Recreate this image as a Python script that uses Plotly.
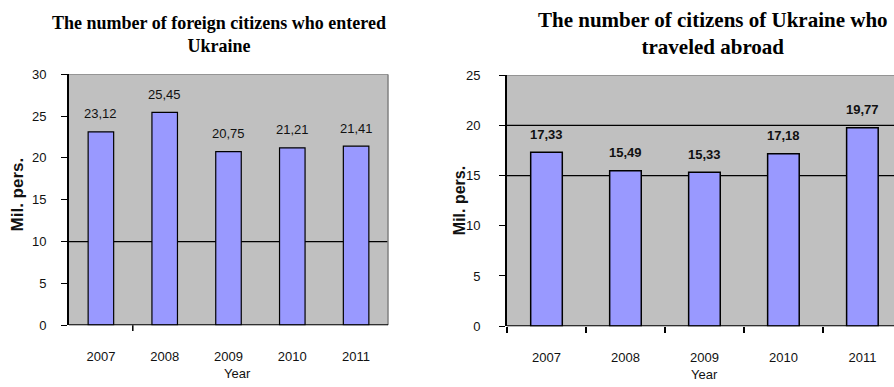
import plotly.graph_objects as go

years = ["2007", "2008", "2009", "2010", "2011"]
foreign_entered = [23.12, 25.45, 20.75, 21.21, 21.41]
ukrainians_abroad = [17.33, 15.49, 15.33, 17.18, 19.77]

left_title = "The number of foreign citizens who entered<br>Ukraine"
right_title = "The number of citizens of Ukraine who<br>traveled abroad"
y_title = "Mil. pers."
x_title = "Year"

W, H = 894, 387
BAR = "#9999FF"
BG = "#C0C0C0"
SANS = "Liberation Sans, Arial"
SERIF = "Liberation Serif, Times New Roman"
TICK_FONT = dict(family=SANS, size=13, color="#111")
LABEL_FONT = dict(family=SANS, size=13, color="#111")


def fmt(v):
    return f"{v:.2f}".replace(".", ",")


fig = go.Figure()
fig.add_trace(go.Bar(x=years, y=foreign_entered, xaxis="x", yaxis="y",
                     marker=dict(color=BAR, line=dict(color="#000", width=1.2)),
                     width=0.4, showlegend=False, hoverinfo="skip"))
fig.add_trace(go.Bar(x=years, y=ukrainians_abroad, xaxis="x2", yaxis="y2",
                     marker=dict(color=BAR, line=dict(color="#000", width=1.5)),
                     width=0.4, showlegend=False, hoverinfo="skip"))

# plot-area placement in paper coordinates
lx0, lx1 = 69 / W, 388 / W
ly0, ly1 = (H - 331) / H, (H - 70) / H
rx0, rx1 = 507 / W, 1.0
ry0, ry1 = (H - 332) / H, (H - 71) / H

common_y = dict(showgrid=False, zeroline=False, showline=True, linecolor="#000", linewidth=2,
                ticks="outside", ticklen=6, tickcolor="#000", tickfont=TICK_FONT)
fig.update_layout(
    width=W, height=H, margin=dict(l=0, r=0, t=0, b=0),
    paper_bgcolor="white", plot_bgcolor=BG, bargap=0.6,
    xaxis=dict(domain=[lx0, lx1], anchor="y", type="category", range=[-0.5, 4.5],
               showgrid=False, showline=False, ticks="", tickfont=TICK_FONT,
               ticklabelstandoff=22),
    yaxis=dict(domain=[ly0, ly1], anchor="x", range=[0, 30], dtick=5,
               ticklabelstandoff=12, **common_y),
    xaxis2=dict(domain=[rx0, rx1], anchor="y2", type="category", range=[-0.5, 4.4],
                showgrid=False, showline=False, ticks="outside", tickson="boundaries",
                ticklen=6, tickcolor="#000", tickwidth=1.5, tickfont=TICK_FONT,
                ticklabelstandoff=22),
    yaxis2=dict(domain=[ry0, ry1], anchor="x2", range=[0, 25], dtick=5,
                ticklabelstandoff=16, **common_y),
)

shapes = []
# grey frame (top and right) of the left plot, top of the right plot
shapes.append(dict(type="line", xref="x domain", yref="y", x0=0, x1=1, y0=30, y1=30,
                   line=dict(color="#808080", width=1.5)))
shapes.append(dict(type="line", xref="x domain", yref="y", x0=1, x1=1, y0=0, y1=30,
                   line=dict(color="#808080", width=1.5)))
shapes.append(dict(type="line", xref="x2 domain", yref="y2", x0=0, x1=1, y0=25, y1=25,
                   line=dict(color="#808080", width=1.5)))
# horizontal grid lines drawn beneath the bars
for yv in [10]:
    shapes.append(dict(type="line", xref="x domain", yref="y", x0=0, x1=1, y0=yv, y1=yv,
                       line=dict(color="#000", width=1.3), layer="below"))
for yv in [15, 20]:
    shapes.append(dict(type="line", xref="x2 domain", yref="y2", x0=0, x1=1, y0=yv, y1=yv,
                       line=dict(color="#000", width=1.3), layer="below"))
# base lines at zero
shapes.append(dict(type="line", xref="x domain", yref="y", x0=0, x1=1, y0=0, y1=0,
                   line=dict(color="#000", width=2)))
shapes.append(dict(type="line", xref="x2 domain", yref="y2", x0=0, x1=1, y0=0, y1=0,
                   line=dict(color="#000", width=2)))
# single category tick under the left chart
shapes.append(dict(type="line", xref="x", yref="paper", x0=0.5, x1=0.5,
                   y0=ly0 - 6 / H, y1=ly0, line=dict(color="#000", width=1.5)))
fig.update_layout(shapes=shapes)

ann = []
for i, v in enumerate(foreign_entered):
    ann.append(dict(x=i, y=v, xref="x", yref="y", text=fmt(v), showarrow=False,
                    yshift=18, font=LABEL_FONT))
for i, v in enumerate(ukrainians_abroad):
    ann.append(dict(x=i, y=v, xref="x2", yref="y2", text=f"<b>{fmt(v)}</b>", showarrow=False,
                    yshift=18, font=LABEL_FONT))
ann += [
    dict(x=219 / W, y=(H - 29) / H, xref="paper", yref="paper", text=f"<b>{left_title}</b>",
         showarrow=False, font=dict(family=SERIF, size=18, color="#000"),
         xanchor="center", yanchor="middle"),
    dict(x=713 / W, y=(H - 28) / H, xref="paper", yref="paper", text=f"<b>{right_title}</b>",
         showarrow=False, font=dict(family=SERIF, size=21, color="#000"),
         xanchor="center", yanchor="middle"),
    dict(x=17 / W, y=(H - 195) / H, xref="paper", yref="paper", text=f"<b>{y_title}</b>",
         textangle=-90, showarrow=False, font=dict(family=SANS, size=17, color="#111"),
         xanchor="center", yanchor="middle"),
    dict(x=459 / W, y=(H - 202) / H, xref="paper", yref="paper", text=f"<b>{y_title}</b>",
         textangle=-90, showarrow=False, font=dict(family=SANS, size=16, color="#111"),
         xanchor="center", yanchor="middle"),
    dict(x=237 / W, y=(H - 381) / H, xref="paper", yref="paper", text=x_title,
         showarrow=False, font=TICK_FONT, xanchor="center", yanchor="middle"),
    dict(x=704 / W, y=(H - 382) / H, xref="paper", yref="paper", text=x_title,
         showarrow=False, font=TICK_FONT, xanchor="center", yanchor="middle"),
]
fig.update_layout(annotations=ann)

fig.write_html("out.html")
